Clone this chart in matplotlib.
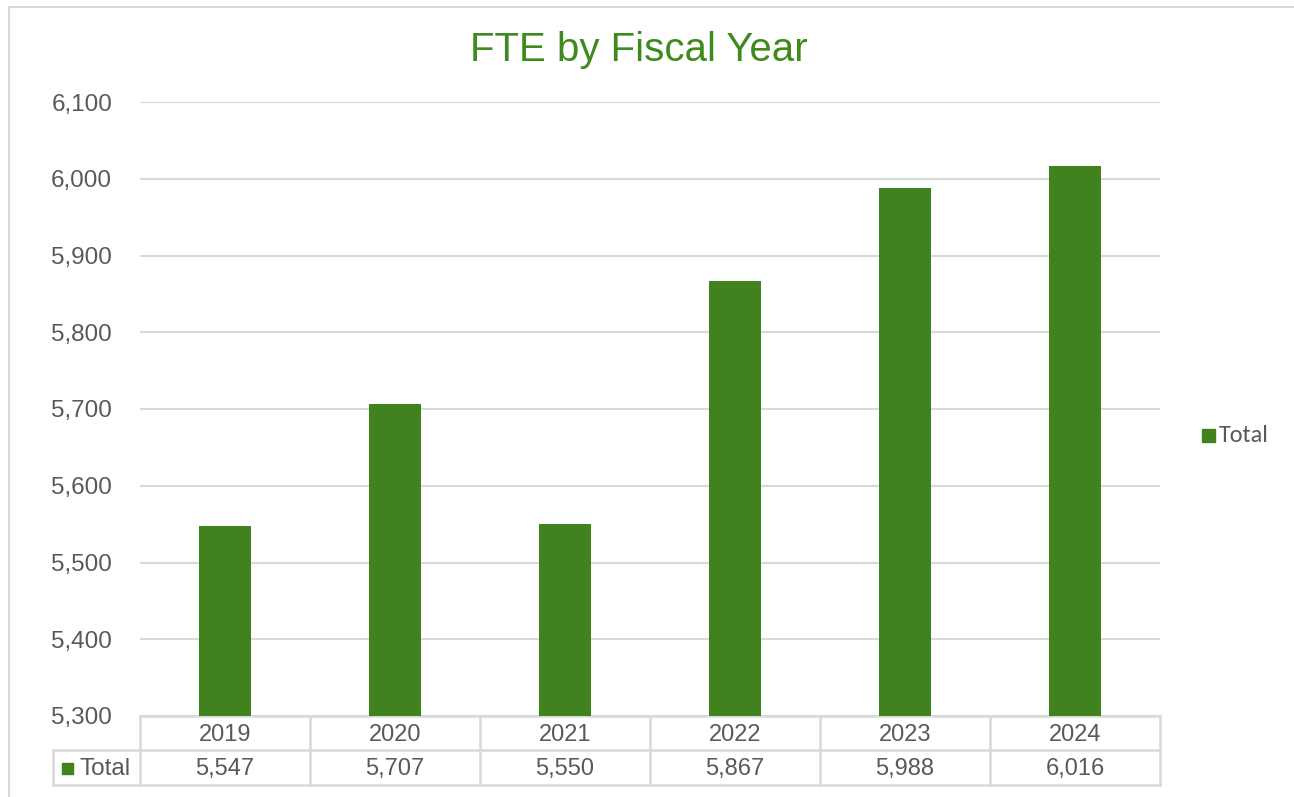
import numpy as np
import matplotlib.pyplot as plt
from matplotlib.lines import Line2D
from matplotlib.patches import Rectangle
from matplotlib.ticker import FuncFormatter, MultipleLocator
import matplotlib.transforms as mtransforms

plt.rcParams["font.family"] = ["Liberation Sans", "DejaVu Sans"]

years = ["2019", "2020", "2021", "2022", "2023", "2024"]
fte_total = [5547, 5707, 5550, 5867, 5988, 6016]
series_name = "Total"
title = "FTE by Fiscal Year"

GREEN = "#41821e"
GRID = "#d9d9d9"
TEXT = "#595959"

W, H = 1294, 797
fig = plt.figure(figsize=(W / 100, H / 100), dpi=100)


def px(x0, y0, x1, y1):
    # pixel box (top-left origin) -> figure fraction rect
    return [x0 / W, 1 - y1 / H, (x1 - x0) / W, (y1 - y0) / H]


ax = fig.add_axes(px(140, 102, 1160, 716))
x = np.arange(len(years))
ax.bar(x, fte_total, width=0.31, color=GREEN, zorder=3)
ax.set_xlim(-0.5, len(years) - 0.5)
ax.set_ylim(5300, 6100)
ax.yaxis.set_major_locator(MultipleLocator(100))
ax.yaxis.set_major_formatter(FuncFormatter(lambda v, pos: f"{int(v):,}"))
ax.tick_params(axis="y", length=0, pad=20, labelsize=17.5, labelcolor=TEXT)
ax.set_xticks([])
ax.grid(axis="y", color=GRID, lw=1.5, zorder=0)
for s in ax.spines.values():
    s.set_visible(False)

# data table under the plot: x in data units, y in axes units
tr = mtransforms.blended_transform_factory(ax.transData, ax.transAxes)
row1 = -34 / 614
row2 = -69 / 614
left_hdr = -0.5 - 87 / 170
line_kw = dict(color=GRID, lw=1.8, transform=tr, clip_on=False)
ax.add_line(Line2D([-0.5, len(years) - 0.5], [0, 0], **line_kw))
ax.add_line(Line2D([left_hdr, len(years) - 0.5], [row1, row1], **line_kw))
ax.add_line(Line2D([left_hdr, len(years) - 0.5], [row2, row2], **line_kw))
for k in range(len(years) + 1):
    ax.add_line(Line2D([k - 0.5, k - 0.5], [0, row2], **line_kw))
ax.add_line(Line2D([left_hdr, left_hdr], [row1, row2], **line_kw))

nudge = -2 / 614  # text sits a touch low in the cells
for i, (yr, v) in enumerate(zip(years, fte_total)):
    ax.text(i, row1 / 2 + nudge, yr, transform=tr, ha="center", va="center",
            fontsize=17, color=TEXT, clip_on=False)
    ax.text(i, (row1 + row2) / 2 + nudge, f"{v:,}", transform=tr, ha="center",
            va="center", fontsize=17, color=TEXT, clip_on=False)

# series key inside table
fig.add_artist(Rectangle((62 / W, 1 - 774 / H), 11 / W, 11 / H,
                         transform=fig.transFigure, color=GREEN))
fig.text(79 / W, 1 - 769 / H, series_name, ha="left", va="center",
         fontsize=17.5, color=TEXT)

# legend on the right
fig.add_artist(Rectangle((1202 / W, 1 - 442 / H), 13 / W, 13 / H,
                         transform=fig.transFigure, color=GREEN))
fig.text(1219 / W, 1 - 435 / H, series_name, ha="left", va="center",
         fontsize=17.5, color=TEXT, family=["Carlito", "Lato", "DejaVu Sans"])

fig.text(639 / W, 1 - 50 / H, title, ha="center", va="center",
         fontsize=29, color="#3f8a1f")

# chart frame (top and left edges visible)
fig.add_artist(Line2D([8.5 / W, 1], [1 - 6.5 / H, 1 - 6.5 / H],
                      transform=fig.transFigure, color=GRID, lw=1.5))
fig.add_artist(Line2D([8.5 / W, 8.5 / W], [0, 1 - 6.5 / H],
                      transform=fig.transFigure, color=GRID, lw=1.5))

fig.savefig("out.png", dpi=100, facecolor="white")
